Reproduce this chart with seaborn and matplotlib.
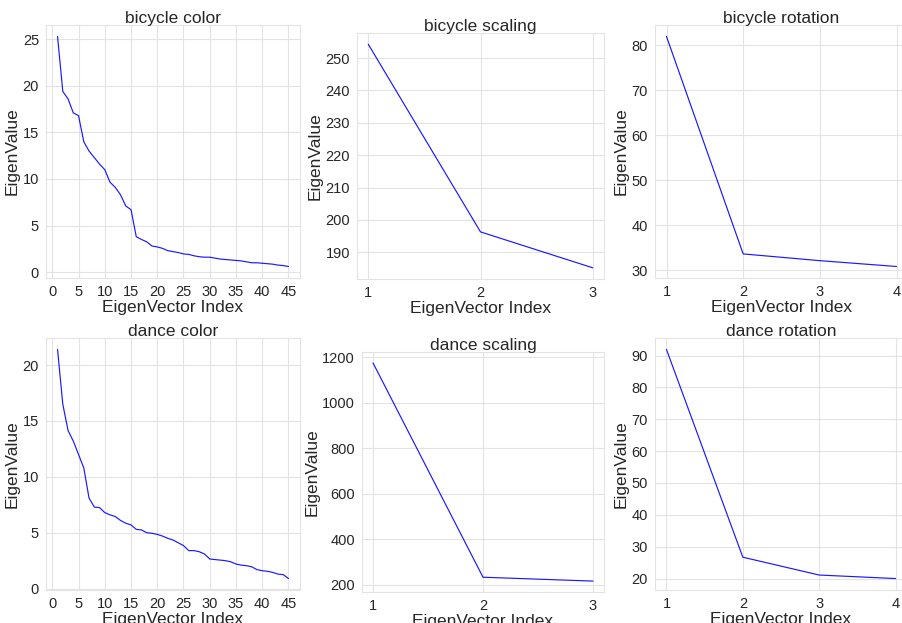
import numpy as np
import pandas as pd
import matplotlib
matplotlib.use("Agg")
import matplotlib.pyplot as plt
import seaborn as sns

bicycle_color = [25.3, 19.4, 18.6, 17.1, 16.8, 14.0, 13.0, 12.3, 11.6, 11.0,
                 9.65, 9.1, 8.3, 7.1, 6.7, 3.8, 3.5, 3.25, 2.8, 2.7,
                 2.55, 2.3, 2.2, 2.1, 1.95, 1.9, 1.75, 1.65, 1.6, 1.6,
                 1.5, 1.4, 1.35, 1.3, 1.25, 1.2, 1.1, 1.0, 1.0, 0.95,
                 0.9, 0.85, 0.75, 0.7, 0.6]
bicycle_scaling = [254.3, 196.3, 185.2]
bicycle_rotation = [82.0, 33.6, 32.1, 30.8]
dance_color = [21.4, 16.5, 14.15, 13.2, 12.0, 10.8, 8.1, 7.3, 7.25, 6.8,
               6.6, 6.45, 6.1, 5.85, 5.7, 5.3, 5.25, 5.0, 4.95, 4.85,
               4.7, 4.5, 4.35, 4.1, 3.85, 3.4, 3.4, 3.3, 3.1, 2.65,
               2.6, 2.55, 2.5, 2.4, 2.2, 2.1, 2.05, 1.95, 1.7, 1.6,
               1.55, 1.45, 1.3, 1.25, 0.9]
dance_scaling = [1175.0, 232.0, 215.0]
dance_rotation = [91.9, 26.7, 21.1, 20.0]

titles = ["bicycle color", "bicycle scaling", "bicycle rotation",
          "dance color", "dance scaling", "dance rotation"]
series = [bicycle_color, bicycle_scaling, bicycle_rotation,
          dance_color, dance_scaling, dance_rotation]
color_xticks = [0, 5, 10, 15, 20, 25, 30, 35, 40, 45]

sns.set_style("whitegrid", {"grid.color": "#e3e3e3", "axes.edgecolor": "#e3e3e3"})
plt.rcParams['font.family'] = ['Liberation Sans', 'DejaVu Sans']

W, H = 902, 623
fig = plt.figure(figsize=(W / 100, H / 100), dpi=100)

# pixel boxes: left, top, width, height
boxes = [(46, 25, 254, 253), (357, 33, 247, 246), (655, 25, 253, 253),
         (46, 338, 254, 252), (362, 352, 242, 240), (655, 338, 252, 252)]

for title, vals, (l, t, w, h) in zip(titles, series, boxes):
    ax = fig.add_axes([l / W, 1 - (t + h) / H, w / W, h / H])
    idx = list(range(1, len(vals) + 1))
    df = pd.DataFrame({"EigenVector Index": idx, "EigenValue": vals})
    sns.lineplot(data=df, x="EigenVector Index", y="EigenValue", ax=ax,
                 color="blue", linewidth=0.85, alpha=0.9)
    if len(vals) <= 5:
        ax.set_xticks(idx)
    else:
        ax.set_xticks(color_xticks)
    ax.set_title(title, fontsize=12.5, color=".15", pad=1.5)
    ax.set_xlabel("EigenVector Index", fontsize=12.5, labelpad=1)
    ax.set_ylabel("EigenValue", fontsize=12.5, labelpad=2)
    ax.tick_params(labelsize=10.5, pad=1.5)

fig.savefig("out.png", dpi=100)
